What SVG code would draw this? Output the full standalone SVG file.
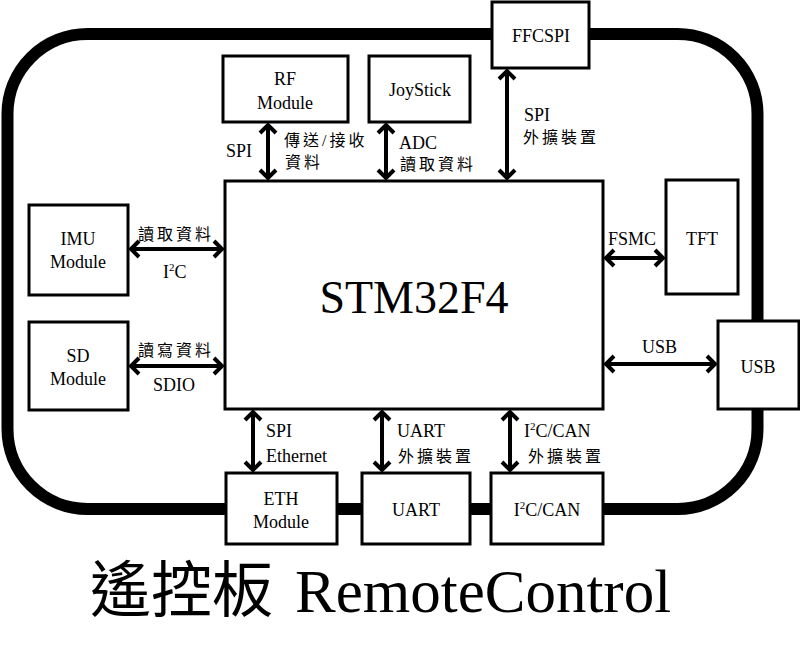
<svg xmlns="http://www.w3.org/2000/svg" width="800" height="664" viewBox="0 0 800 664">
<defs>
<style>
.t{font-family:"Liberation Serif","Noto Sans CJK TC",serif;font-size:18px;fill:#000}
.c{font-family:"Liberation Serif","Noto Sans CJK TC",serif;font-size:16px;letter-spacing:3px;fill:#000}
.m{text-anchor:middle}
.box{fill:#fff;stroke:#000;stroke-width:3}
.ln{stroke:#000;stroke-width:4;fill:none;marker-start:url(#ah);marker-end:url(#ah)}
</style>
<marker id="ah" markerUnits="userSpaceOnUse" markerWidth="24" markerHeight="24" viewBox="-12 -12 24 24" refX="0" refY="0" orient="auto-start-reverse">
<path d="M-9,-8 L-1,0 L-9,8" fill="none" stroke="#000" stroke-width="4"/>
</marker>
</defs>
<rect width="800" height="664" fill="#fff"/>
<rect id="board" x="7.5" y="34" width="750" height="475" rx="80" ry="80" fill="none" stroke="#000" stroke-width="12"/>

<g id="connectors">
<line class="ln" x1="268" y1="124" x2="268" y2="179"/>
<line class="ln" x1="386" y1="124" x2="386" y2="179"/>
<line class="ln" x1="507" y1="70" x2="507" y2="179"/>
<line class="ln" x1="130" y1="249" x2="223" y2="249"/>
<line class="ln" x1="130" y1="366" x2="223" y2="366"/>
<line class="ln" x1="605" y1="258" x2="664" y2="258"/>
<line class="ln" x1="605" y1="364" x2="716" y2="364"/>
<line class="ln" x1="253" y1="411" x2="253" y2="471"/>
<line class="ln" x1="382" y1="411" x2="382" y2="471"/>
<line class="ln" x1="510" y1="411" x2="510" y2="471"/>
</g>

<g id="labels">
<text class="t" x="226" y="157">SPI</text>
<text class="c" x="284" y="146">傳送/接收</text>
<text class="c" x="285" y="168">資料</text>
<text class="t" x="399" y="149">ADC</text>
<text class="c" x="400" y="170">讀取資料</text>
<text class="t" x="524" y="121">SPI</text>
<text class="c" x="523" y="143">外擴裝置</text>
<text class="c" x="138" y="240">讀取資料</text>
<text class="t" x="163" y="278">I<tspan font-size="11" dy="-7">2</tspan><tspan dy="7">C</tspan></text>
<text class="c" x="138" y="356">讀寫資料</text>
<text class="t" x="153" y="391">SDIO</text>
<text class="t" x="608" y="245">FSMC</text>
<text class="t" x="642" y="353">USB</text>
<text class="t" x="266" y="437">SPI</text>
<text class="t" x="266" y="462">Ethernet</text>
<text class="t" x="397" y="437">UART</text>
<text class="c" x="398" y="462">外擴裝置</text>
<text class="t" x="524" y="437">I<tspan font-size="11" dy="-7">2</tspan><tspan dy="7">C/CAN</tspan></text>
<text class="c" x="528" y="462">外擴裝置</text>
</g>

<g id="ffcspi"><rect class="box" x="492" y="2" width="97" height="66"/><text class="t m" x="541" y="42">FFCSPI</text></g>
<g id="rf"><rect class="box" x="223" y="56" width="125" height="66"/><text class="t m" x="285" y="85">RF</text><text class="t m" x="285" y="109">Module</text></g>
<g id="joystick"><rect class="box" x="369" y="56" width="101" height="66"/><text class="t m" x="420" y="96">JoyStick</text></g>
<g id="stm32"><rect class="box" x="225" y="181" width="378" height="228"/><text class="t m" x="414" y="313" style="font-size:46px">STM32F4</text></g>
<g id="tft"><rect class="box" x="666" y="180" width="72" height="114"/><text class="t m" x="702" y="245">TFT</text></g>
<g id="imu"><rect class="box" x="29" y="205" width="99" height="90"/><text class="t m" x="78" y="245">IMU</text><text class="t m" x="78" y="268">Module</text></g>
<g id="sd"><rect class="box" x="29" y="322" width="99" height="88"/><text class="t m" x="78" y="362">SD</text><text class="t m" x="78" y="385">Module</text></g>
<g id="usb"><rect class="box" x="718" y="321" width="81" height="88"/><text class="t m" x="758" y="373">USB</text></g>
<g id="eth"><rect class="box" x="226" y="473" width="111" height="71"/><text class="t m" x="281" y="505">ETH</text><text class="t m" x="281" y="528">Module</text></g>
<g id="uart"><rect class="box" x="362" y="473" width="108" height="71"/><text class="t m" x="416" y="516">UART</text></g>
<g id="i2ccan"><rect class="box" x="491" y="473" width="112" height="71"/><text class="t m" x="547" y="516">I<tspan font-size="11" dy="-7">2</tspan><tspan dy="7">C/CAN</tspan></text></g>

<text id="title" x="90" y="612" style="font-family:'Liberation Serif','Noto Sans CJK TC',serif;font-size:61px">遙控板<tspan x="295">RemoteControl</tspan></text>
</svg>
